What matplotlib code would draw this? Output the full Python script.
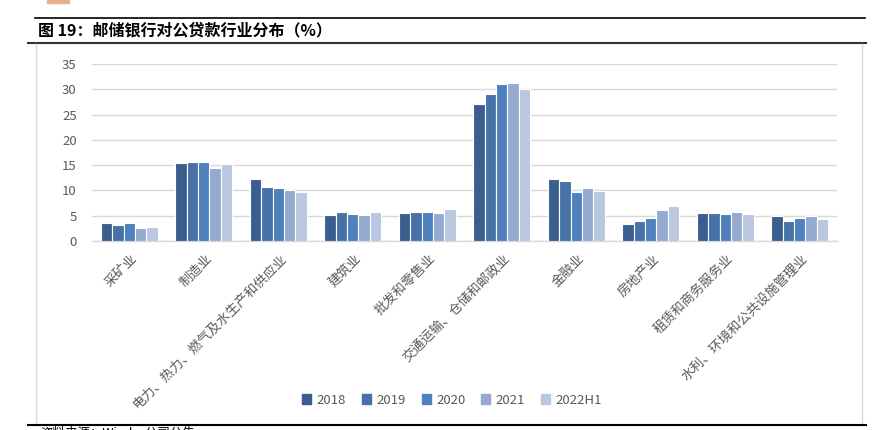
import matplotlib
matplotlib.use("Agg")
import numpy as np
import matplotlib.pyplot as plt
from matplotlib.lines import Line2D
from matplotlib.patches import Rectangle

plt.rcParams['font.family'] = ['Noto Sans CJK SC', 'DejaVu Sans']

# data
industries = ['采矿业', '制造业', '电力、热力、燃气及水生产和供应业', '建筑业', '批发和零售业',
              '交通运输、仓储和邮政业', '金融业', '房地产业', '租赁和商务服务业', '水利、环境和公共设施管理业']
years = ['2018', '2019', '2020', '2021', '2022H1']
v2018 = [3.5, 15.4, 12.3, 5.2, 5.6, 27.0, 12.3, 3.4, 5.6, 4.9]
v2019 = [3.2, 15.7, 10.7, 5.8, 5.8, 29.1, 11.8, 3.9, 5.6, 3.9]
v2020 = [3.5, 15.7, 10.4, 5.4, 5.8, 31.1, 9.7, 4.6, 5.4, 4.6]
v2021 = [2.5, 14.5, 10.1, 5.2, 5.6, 31.3, 10.4, 6.1, 5.8, 4.9]
v2022h1 = [2.7, 15.2, 9.7, 5.8, 6.4, 30.1, 9.9, 7.0, 5.4, 4.4]
colors = ['#3A5F8E', '#4672A8', '#4F81BD', '#95AACF', '#B9C7E0']

series = [v2018, v2019, v2020, v2021, v2022h1]

fig = plt.figure(figsize=(8.85, 4.3), dpi=100)
W, H = 885.0, 430.0

ax = fig.add_axes([92 / W, 1 - 241 / H, (837 - 92) / W, (241 - 64) / H])
x = np.arange(len(industries))
step = 0.152
for i, vals in enumerate(series):
    ax.bar(x + (i - 2) * step, vals, width=step, color=colors[i],
           edgecolor='white', linewidth=0.8, label=years[i], zorder=3)

ax.set_xlim(-0.5, len(industries) - 0.5)
ax.set_ylim(0, 35)
ax.set_yticks(np.arange(0, 36, 5))
ax.yaxis.grid(True, color='#D9D9D9', linewidth=1, zorder=0)
for s in ['top', 'right', 'left']:
    ax.spines[s].set_visible(False)
ax.spines['bottom'].set_color('#D9D9D9')
ax.spines['bottom'].set_linewidth(1)
ax.tick_params(axis='y', length=0, labelsize=9.5, labelcolor='#595959', pad=11)
ax.tick_params(axis='x', length=0)
ax.set_xticks(x)
ax.set_xticklabels([])
for xi, name in zip(x, industries):
    ax.annotate(name, xy=(xi, 0), xycoords=('data', 'axes fraction'),
                xytext=(8, -8), textcoords='offset points',
                rotation=45, ha='right', va='top', fontsize=9.5, color='#595959')

handles = [Rectangle((0, 0), 1, 1, color=c) for c in colors]
fig.legend(handles, years, loc='center', bbox_to_anchor=(452 / W, 1 - 400 / H),
           ncol=5, frameon=False, fontsize=9.5, handlelength=0.7, handleheight=0.7,
           columnspacing=1.2, handletextpad=0.4, labelcolor='#595959')

# page decorations
fig.add_artist(Rectangle((47 / W, 1 - 3 / H), 22 / W, 3 / H, color='#E8B08A',
                         transform=fig.transFigure))
fig.add_artist(Line2D([35 / W, 865 / W], [1 - 18 / H] * 2, color='black', lw=1.2))
fig.add_artist(Line2D([28 / W, 866 / W], [1 - 43 / H] * 2, color='#333333', lw=1.5))
fig.add_artist(Line2D([36 / W, 36 / W], [1 - 44 / H, 1 - 425 / H], color='#D9D9D9', lw=1))
fig.add_artist(Line2D([862 / W, 862 / W], [1 - 44 / H, 1 - 425 / H], color='#D9D9D9', lw=1))
fig.add_artist(Line2D([28 / W, 866 / W], [1 - 425 / H] * 2, color='black', lw=1.5))
fig.text(38 / W, 1 - 30 / H, '图 19：邮储银行对公贷款行业分布（%）', fontsize=11.5,
         fontweight='bold', va='center', ha='left')
fig.text(40 / W, 1 - 427 / H, '资料来源：Wind，公司公告', fontsize=9, va='top', ha='left')

fig.savefig('out.png', dpi=100)
